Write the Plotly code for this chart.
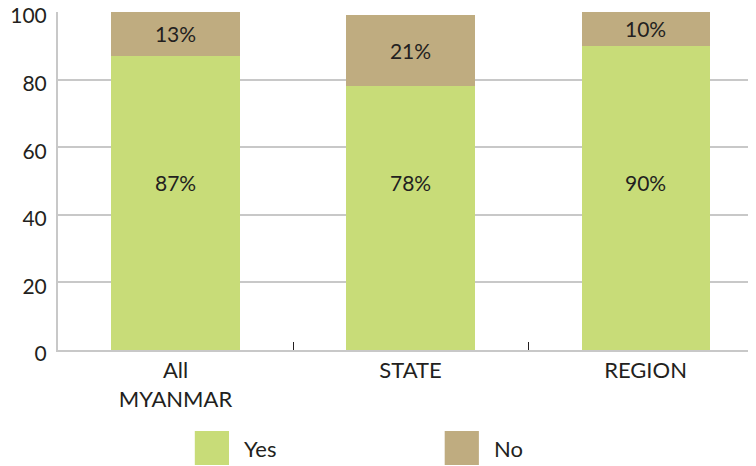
import plotly.graph_objects as go

categories = ["All<br>MYANMAR", "STATE", "REGION"]
yes_values = [87, 78, 90]
no_values = [13, 21, 10]
series_names = ["Yes", "No"]
y_ticks = [0, 20, 40, 60, 80, 100]

GREEN = "#c8dc78"
TAN = "#bfac80"
TXT = "#231f20"
FONT = "Lato"

x = list(range(len(categories)))

fig = go.Figure()
fig.add_trace(go.Bar(
    x=x, y=yes_values, name=series_names[0], marker=dict(color=GREEN, line=dict(width=0)),
    textposition="none", width=0.545, showlegend=False,
))
fig.add_trace(go.Bar(
    x=x, y=no_values, name=series_names[1], marker=dict(color=TAN, line=dict(width=0)),
    text=[f"{v}%" for v in no_values], textposition="inside", insidetextanchor="middle",
    textfont=dict(family=FONT, size=21, color=TXT), width=0.545, showlegend=False,
))
# "Yes" labels sit at a common height in the reference
for xi, v in zip(x, yes_values):
    fig.add_annotation(x=xi, y=49.5, xref="x", yref="y", text=f"{v}%", showarrow=False,
                       font=dict(family=FONT, size=21, color=TXT))

fig.update_layout(
    barmode="stack",
    width=748, height=458,
    margin=dict(l=50, r=0, t=4, b=116, autoexpand=False),
    plot_bgcolor="white", paper_bgcolor="white",
    font=dict(family=FONT, color=TXT),
)
fig.update_xaxes(
    range=[-0.5, 2.47], tickvals=x, ticktext=categories, ticks="", automargin=False,
    tickfont=dict(family=FONT, size=22, color=TXT), ticklabelstandoff=0,
    showline=True, linecolor="#c8c8c8", linewidth=2, showgrid=False, zeroline=False,
    minor=dict(tickvals=[0.5, 1.5], ticks="inside", ticklen=8, tickcolor="#231f20", tickwidth=1, showgrid=False),
)
fig.update_yaxes(
    range=[0, 100], tickvals=y_ticks, ticks="", ticklabelstandoff=5, automargin=False,
    ticklabelshift=4,
    tickfont=dict(family=FONT, size=21, color=TXT), ticklabeloverflow="allow",
    showgrid=True, gridcolor="#c8c8c8", gridwidth=2,
    showline=True, linecolor="#c8c8c8", linewidth=2, zeroline=False,
)

colors = [GREEN, TAN]
sq_x = [0.196, 0.554]
for name, col, sx in zip(series_names, colors, sq_x):
    fig.add_shape(type="rect", xref="paper", yref="paper",
                  x0=sx, x1=sx + 0.049, y0=-0.340, y1=-0.240,
                  fillcolor=col, line=dict(width=0))
    fig.add_annotation(xref="paper", yref="paper", x=sx + 0.068, y=-0.290,
                       text=name, showarrow=False, xanchor="left", yanchor="middle",
                       font=dict(family=FONT, size=22, color=TXT))

fig.write_html("out.html")
